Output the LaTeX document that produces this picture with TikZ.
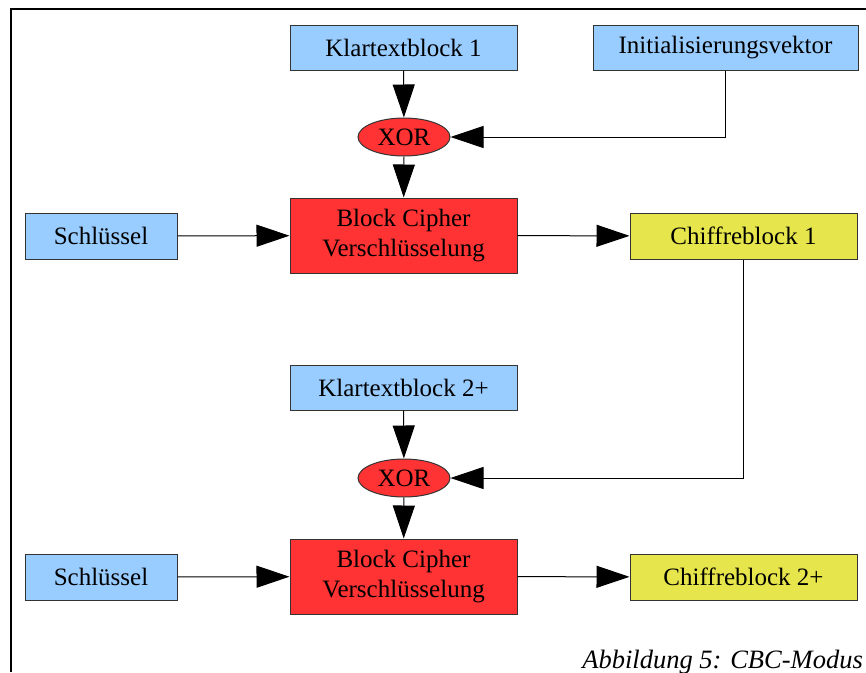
\documentclass[tikz,border=0pt]{standalone}
\usepackage{fontspec}
\setmainfont{Liberation Serif}
\usetikzlibrary{arrows.meta,positioning,shapes.geometric}
\definecolor{cbcblue}{HTML}{99CCFF}
\definecolor{cbcred}{HTML}{FF3333}
\definecolor{cbcyellow}{HTML}{E6E64C}
\definecolor{cbcgray}{HTML}{333333}

\begin{document}
\begin{tikzpicture}[
    x=1pt,
    y=-1pt,
    font=\fontsize{25}{29.5}\selectfont,
    inbox/.style={rectangle, draw=cbcgray, line width=1pt, fill=cbcblue, minimum width=227pt, minimum height=45pt, inner sep=0pt},
    keybox/.style={inbox, minimum width=152pt, minimum height=46pt},
    cipher/.style={rectangle, draw=cbcgray, line width=1pt, fill=cbcred, minimum width=227pt, minimum height=75pt, align=center, inner sep=0pt},
    outbox/.style={rectangle, draw=cbcgray, line width=1pt, fill=cbcyellow, minimum width=227pt, minimum height=46pt, inner sep=0pt},
    xorop/.style={ellipse, draw=cbcgray, line width=1pt, fill=cbcred, minimum width=92pt, minimum height=38pt, inner sep=0pt},
    link/.style={-{Triangle[length=33pt, width=22pt]}, line width=1pt, draw=black}
  ]
    \useasboundingbox (0,0) rectangle (866,672);

    % frame of the figure
    \coordinate (frameBL) at (11,672);
    \coordinate (frameTL) at (11,9);
    \coordinate (frameTR) at (866,9);
    \draw[line width=1.5pt] (frameBL) -- (frameTL) -- (frameTR);

    % first block
    \node[inbox] (klar1) at (403.5,47.5) {Klartextblock 1};
    \node[inbox, minimum width=265pt] (iv) at (725.5,47.5) {Initialisierungsvektor};
    \node[xorop] (xor1) at (404,137) {XOR};
    \node[cipher] (bc1) at (403.5,235.5) {Block Cipher\\Verschlüsselung};
    \node[keybox] (key1) at (101,236) {Schlüssel};
    \node[outbox] (chiff1) at (743.5,236) {Chiffreblock 1};

    % following blocks
    \node[inbox] (klar2) at (403.5,387.5) {Klartextblock 2+};
    \node[xorop] (xor2) at (404,478) {XOR};
    \node[cipher] (bc2) at (403.5,576.5) {Block Cipher\\Verschlüsselung};
    \node[keybox] (key2) at (101,577) {Schlüssel};
    \node[outbox] (chiff2) at (743.5,577) {Chiffreblock 2+};

    \node[anchor=base east, inner sep=0pt, font=\fontsize{26.5}{30}\selectfont\itshape] (caption) at (863,668) {Abbildung 5: CBC-Modus};

    \draw[link] (klar1) -- (xor1);
    \draw[link] (iv.south) |- (xor1.east);
    \draw[link] (xor1) -- (bc1);
    \draw[link] (key1) -- (bc1);
    \draw[link] (bc1) -- (chiff1);

    \draw[link] (klar2) -- (xor2);
    \draw[link] (chiff1.south) |- (xor2.east);
    \draw[link] (xor2) -- (bc2);
    \draw[link] (key2) -- (bc2);
    \draw[link] (bc2) -- (chiff2);
  \end{tikzpicture}
\end{document}
